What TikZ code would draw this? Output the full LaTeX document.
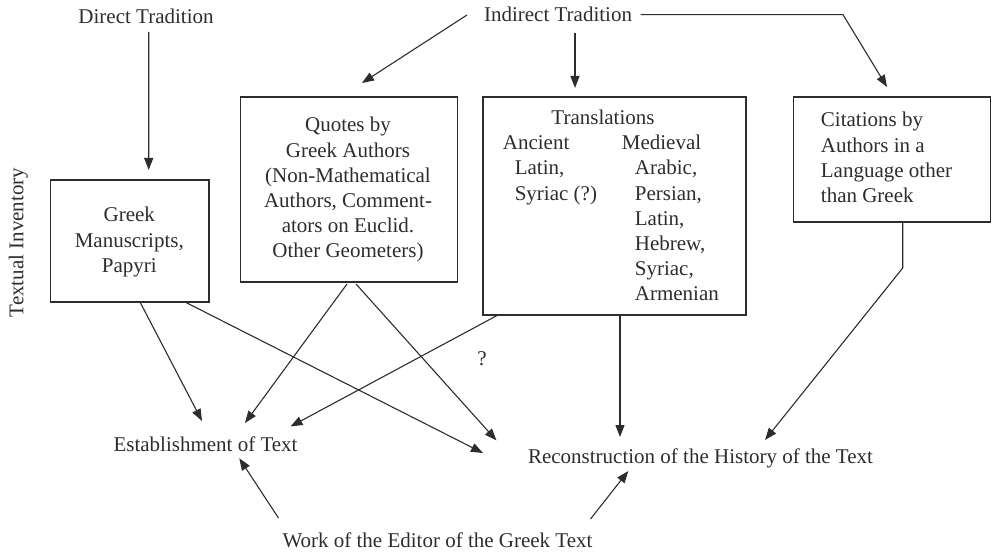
\documentclass[tikz,border=0pt]{standalone}
\usepackage{fontspec}
\setmainfont{Liberation Serif}
\usetikzlibrary{arrows.meta,calc}
\definecolor{ink}{RGB}{45,45,45}
\begin{document}
\begin{tikzpicture}[x=1pt,y=-1pt,
  every node/.style={font=\fontsize{21}{25.2}\selectfont, text=ink, inner sep=0pt},
  lbl/.style={anchor=base},
  col/.style={anchor=base west},
  box/.style={draw=ink, line width=1.1pt},
  conn/.style={draw=ink, line width=1.1pt, -{Triangle[length=12pt,width=9pt]}}]
\useasboundingbox (0,0) rectangle (992,553);

% boxes
\node[box, minimum width=158.3pt, minimum height=122pt] (greek) at (129.85,241) {};
\node[box, minimum width=217pt, minimum height=185pt] (quotes) at (349.2,189.5) {};
\node[box, minimum width=263pt, minimum height=218pt] (trans) at (614.5,206) {};
\node[box, minimum width=197pt, minimum height=125pt] (cit) at (892,159.5) {};

% box texts
\node[lbl] (greektxt) at (129.3,222) {\begin{tabular}[t]{@{}c@{}}Greek\\Manuscripts,\\Papyri\end{tabular}};
\node[lbl] (quotestxt) at (348,132) {\begin{tabular}[t]{@{}c@{}}Quotes by\\Greek Authors\\(Non-Mathematical\\Authors, Comment-\\ators on Euclid.\\Other Geometers)\end{tabular}};
\node[lbl] (transtitle) at (603,125) {Translations};
\node[col] (ancient) at (502.7,149.7) {\begin{tabular}[t]{@{}l@{}}Ancient\\\hspace*{11.9pt}Latin,\\\hspace*{11.9pt}Syriac (?)\end{tabular}};
\node[col] (medieval) at (621.7,149.7) {\begin{tabular}[t]{@{}l@{}}Medieval\\\hspace*{13pt}Arabic,\\\hspace*{13pt}Persian,\\\hspace*{13pt}Latin,\\\hspace*{13pt}Hebrew,\\\hspace*{13pt}Syriac,\\\hspace*{13pt}Armenian\end{tabular}};
\node[col] (cittxt) at (820.7,127) {\begin{tabular}[t]{@{}l@{}}Citations by\\Authors in a\\Language other\\than Greek\end{tabular}};

% free labels
\node[lbl] (direct) at (146,24) {Direct Tradition};
\node[lbl] (indirect) at (558,22) {Indirect Tradition};
\node[lbl, rotate=90] (textinv) at (23.3,242.5) {Textual Inventory};
\node[lbl] (estab) at (205.5,451) {Establishment of Text};
\node[lbl] (recon) at (700.5,463) {Reconstruction of the History of the Text};
\node[lbl] (work) at (437.5,547) {Work of the Editor of the Greek Text};
\node[lbl] (quest) at (482,365) {?};

% connectors
\draw[conn] ($(direct.base)+(2.7,8)$) -- ($(greek.center)+(18.85,-71)$);
\draw[conn] ($(indirect.base)+(-91,-7)$) -- ($(quotes.center)+(12.8,-106.5)$);
\draw[conn] ($(indirect.base)+(17,11)$) -- ($(trans.center)+(-39.5,-118)$);
\draw[conn] ($(indirect.base)+(82.7,-7.3)$) -- ++(202.3,0) -- ($(cit.center)+(-5,-72.5)$);

\draw[conn] ($(greek.center)+(10.15,61)$) -- ($(estab.base)+(-3.5,-30)$);
\draw[conn] ($(greek.center)+(55.15,61)$) -- ($(recon.base)+(-217.5,-10)$);
\draw[conn] ($(quotes.center)+(-2.2,94.5)$) -- ($(estab.base)+(39.5,-28)$);
\draw[conn] ($(quotes.center)+(6.8,94.5)$) -- ($(recon.base)+(-204,-22.5)$);
\draw[conn] ($(trans.center)+(-116.5,109)$) -- ($(estab.base)+(85,-24.5)$);
\draw[conn] ($(trans.center)+(5.5,109)$) -- ($(recon.base)+(-80.5,-26)$);
\draw[conn] ($(cit.center)+(10.7,62.5)$) -- ++(0,46) -- ($(recon.base)+(64.5,-23)$);

\draw[conn] ($(work.base)+(-159,-29)$) -- ($(estab.base)+(33.8,7.3)$);
\draw[conn] ($(work.base)+(153,-28)$) -- ($(recon.base)+(-72.2,8)$);
\end{tikzpicture}
\end{document}
